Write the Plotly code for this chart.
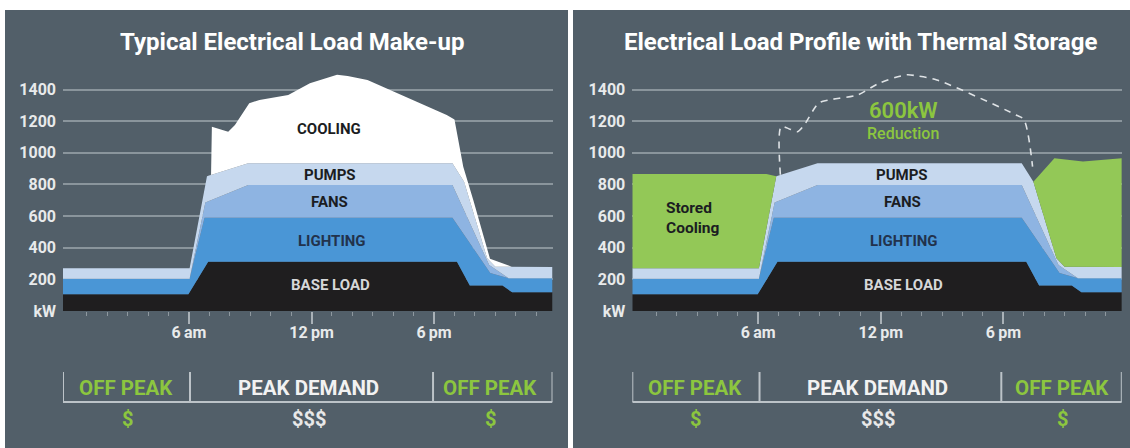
import plotly.graph_objects as go

W, H = 1130, 448

# ---------------- data (hours of day, kW: top edge of each stacked layer) -------------
base_hours = [-0.17, 5.97, 6.94, 19.12, 19.75, 21.35, 21.82, 23.8]
base_kw = [105, 105, 311, 311, 160, 160, 118, 118]

lighting_hours = [-0.17, 6.03, 6.76, 18.9, 20.75, 21.65, 23.8]
lighting_kw = [204, 204, 590, 590, 240, 206, 206]

fans_hours = [-0.17, 6.03, 6.8, 8.9, 18.9, 20.7, 21.65, 23.8]
fans_kw = [204, 204, 686, 797, 797, 290, 206, 206]

pumps_hours = [-0.17, 6.03, 6.88, 8.9, 18.9, 19.47, 20.6, 21.0, 23.8]
pumps_kw = [270, 270, 852, 935, 935, 818, 333, 280, 278]

cooling_hours = [-0.17, 6.03, 6.88, 7.08, 7.12, 7.55, 7.92, 8.25, 8.95, 9.45, 10.86,
                 11.92, 13.25, 13.77, 14.74, 18.62, 19.0, 19.43, 19.92, 20.74, 21.8, 23.8]
cooling_kw = [270, 270, 852, 862, 1166, 1150, 1134, 1177, 1314, 1335, 1367,
              1441, 1494, 1487, 1462, 1240, 1212, 913, 702, 330, 280, 278]

stored_hours = [-0.17, 6.4, 6.88, 8.9, 18.9, 19.47, 20.5, 21.9, 23.8]
stored_kw = [866, 866, 852, 935, 935, 818, 966, 945, 966]

y_tick_vals = [0, 200, 400, 600, 800, 1000, 1200, 1400]
y_tick_text = ["kW", "200", "400", "600", "800", "1000", "1200", "1400"]
x_tick_vals = [6, 12, 18]
x_tick_text = ["6\u2009am", "12\u2009pm", "6\u2009pm"]

# ---------------- styling ----------------
PANEL = "#525f69"
GRID = "#8a959c"
C_BASE = "#1f1e1f"
C_LIGHT = "#4a96d6"
C_FANS = "#8eb4e2"
C_PUMPS = "#c6d8ee"
C_COOL = "#ffffff"
C_GREEN = "#93c857"
T_GREEN = "#8cc63f"
FONT = "Roboto"


def px(x):
    return x / W


def py(y):
    return 1 - y / H


fig = go.Figure()

layers = [
    (base_hours, base_kw, C_BASE, "tozeroy"),
    (lighting_hours, lighting_kw, C_LIGHT, "tonexty"),
    (fans_hours, fans_kw, C_FANS, "tonexty"),
    (pumps_hours, pumps_kw, C_PUMPS, "tonexty"),
]

for xa, ya, extra in [("x", "y", (cooling_hours, cooling_kw, C_COOL, "tonexty")),
                      ("x2", "y2", (stored_hours, stored_kw, C_GREEN, "tonexty"))]:
    for hx, ky, col, fl in layers + [extra]:
        fig.add_trace(go.Scatter(x=hx, y=ky, mode="lines", fill=fl, fillcolor=col,
                                 line=dict(width=0, color=col), xaxis=xa, yaxis=ya,
                                 hoverinfo="skip", showlegend=False))

# dashed outline of the removed cooling peak on the right chart
i0 = cooling_hours.index(7.08)
i1 = cooling_hours.index(19.43)
fig.add_trace(go.Scatter(x=cooling_hours[i0:i1 + 1], y=cooling_kw[i0:i1 + 1], mode="lines",
                         line=dict(color="#dfe3e6", width=1.6, dash="7px,6px", shape="spline", smoothing=0.8),
                         xaxis="x2", yaxis="y2", hoverinfo="skip", showlegend=False))

y_dom = [py(310.9), py(64.4)]
xrange_ = [-0.17, 23.8]

common_x = dict(range=xrange_, tickmode="array", tickvals=x_tick_vals, ticktext=x_tick_text,
                ticks="outside", ticklen=12, tickwidth=1.5, tickcolor="#a9b1b7",
                showgrid=False, zeroline=False, showline=False, automargin=False,
                ticklabelstandoff=-5,
                tickfont=dict(family=FONT, size=16, color="#e8eaeb", weight="bold"),
                minor=dict(tickmode="array", tickvals=[h for h in range(1, 24) if h % 6],
                           ticks="outside", ticklen=4, tickwidth=1, tickcolor="#8e989f", showgrid=False),
                fixedrange=True)
common_y = dict(range=[0, 1560], tickmode="array", tickvals=y_tick_vals, ticktext=y_tick_text,
                ticks="", showgrid=True, gridcolor=GRID, gridwidth=1.5, zeroline=False, showline=False,
                automargin=False,
                tickfont=dict(family=FONT, size=16, color="#e8eaeb", weight="bold"),
                ticklabelstandoff=6, domain=y_dom, fixedrange=True)

fig.update_layout(
    width=W, height=H, margin=dict(l=0, r=0, t=0, b=0, pad=0), autosize=False,
    paper_bgcolor="#ffffff", plot_bgcolor=PANEL, showlegend=False,
    xaxis=dict(domain=[px(63), px(552.5)], anchor="y", **common_x),
    yaxis=dict(anchor="x", **common_y),
    xaxis2=dict(domain=[px(632.3), px(1121.8)], anchor="y2", **common_x),
    yaxis2=dict(anchor="x2", **common_y),
)

shapes = [
    dict(type="rect", xref="paper", yref="paper", x0=px(5), x1=px(568), y0=0, y1=py(10),
         fillcolor=PANEL, line=dict(width=0), layer="below"),
    dict(type="rect", xref="paper", yref="paper", x0=px(573), x1=1, y0=0, y1=py(10),
         fillcolor=PANEL, line=dict(width=0), layer="below"),
]
BR = "#bcc3c8"
for xr, xs in [("x", [-0.17, 6.05, 17.95, 23.8]), ("x2", [-0.17, 6.06, 17.9, 23.8])]:
    for xv in xs:
        shapes.append(dict(type="line", xref=xr, yref="paper", x0=xv, x1=xv, y0=py(372), y1=py(402),
                           line=dict(color=BR, width=2)))
    shapes.append(dict(type="line", xref=xr, yref="paper", x0=xs[0], x1=xs[-1], y0=py(402), y1=py(402),
                       line=dict(color=BR, width=2)))
fig.update_layout(shapes=shapes)

ann = []


def add(text, x, y, size, color, xref="paper", yref="paper", weight="bold", xanchor="center", **kw):
    ann.append(dict(text=text, x=x, y=y, xref=xref, yref=yref, showarrow=False,
                    xanchor=xanchor, yanchor="middle",
                    font=dict(family=FONT, size=size, color=color, weight=weight), **kw))


# titles
add("Typical Electrical Load Make-up", px(292), py(42), 24, "#ffffff")
add("Electrical Load Profile with Thermal Storage", px(860.5), py(42), 24, "#ffffff")

# in-chart labels
DARK = "#1b1d22"
for xr, yr, hx in [("x", "y", 12.9), ("x2", "y2", 13.05)]:
    add("PUMPS", hx, 860, 15, DARK, xr, yr)
    add("FANS", hx, 688, 15, DARK, xr, yr)
    add("LIGHTING", hx + 0.08, 442, 15, "#22324c", xr, yr)
    add("BASE LOAD", hx + 0.05, 164, 15, "#d6d7d8", xr, yr)
add("COOLING", 12.86, 1154, 15, DARK, "x", "y")
add("600kW", 13.13, 1268, 22, T_GREEN, "x2", "y2", weight=600)
add("Reduction", 13.09, 1120, 16, T_GREEN, "x2", "y2", weight=500)
add("Stored<br>Cooling", 1.38, 590, 15.5, DARK, "x2", "y2", xanchor="left", align="left")

# bottom brackets
for cx, lab, col in [(125.8, "OFF PEAK", T_GREEN), (308, "PEAK DEMAND", "#f2f2f2"), (490, "OFF PEAK", T_GREEN),
                     (695, "OFF PEAK", T_GREEN), (877, "PEAK DEMAND", "#f2f2f2"), (1062, "OFF PEAK", T_GREEN)]:
    add(lab, px(cx), py(388), 20.5, col)
for cx, lab, col in [(127, "$", T_GREEN), (309, "$$$", "#e8e8e8"), (490, "$", T_GREEN),
                     (695.5, "$", T_GREEN), (877.5, "$$$", "#e8e8e8"), (1062, "$", T_GREEN)]:
    add(lab, px(cx), py(419), 20, col)

fig.update_layout(annotations=ann)

post = (
    "document.documentElement.style.margin='0px';"
    "document.body.style.margin='0px';document.body.style.overflow='hidden';"
)
fig.write_html("out.html", config={"displayModeBar": False}, post_script=post)
